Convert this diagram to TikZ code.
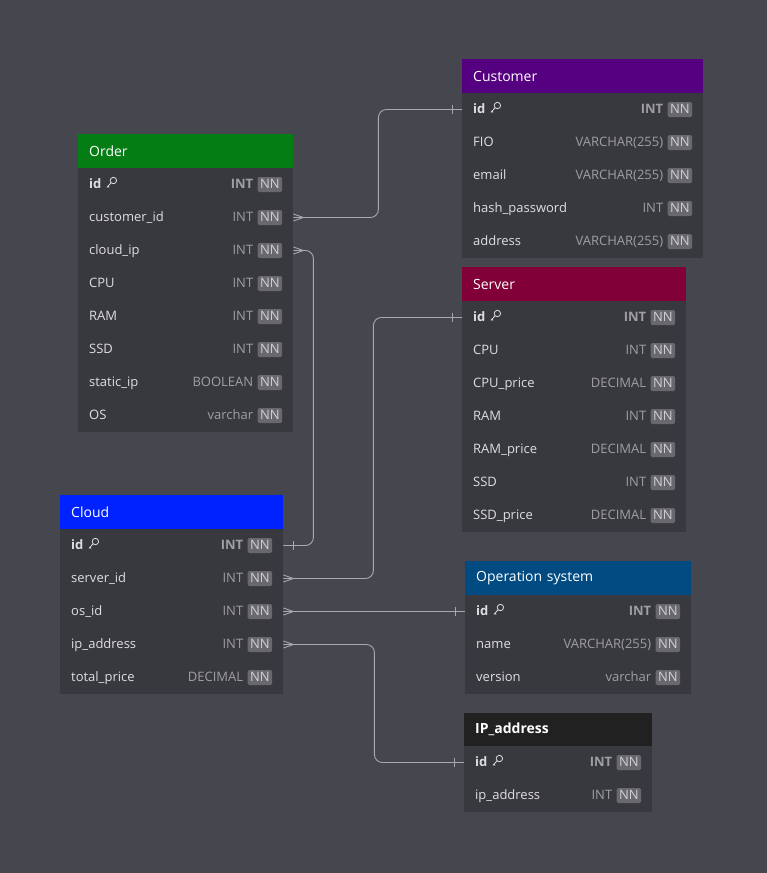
\documentclass[tikz,border=0pt]{standalone}
\usepackage{fontspec}
\setmainfont{Open Sans}
\usepackage{tikz}
\usetikzlibrary{positioning, calc}
\definecolor{bgcolor}{RGB}{70, 70, 78}
\definecolor{bodycolor}{RGB}{56, 56, 63}
\definecolor{fieldcolor}{RGB}{222, 222, 226}
\definecolor{typecolor}{RGB}{158, 158, 164}
\definecolor{badgecolor}{RGB}{104, 104, 110}
\definecolor{badgetext}{RGB}{208, 208, 212}
\definecolor{linkcolor}{RGB}{168, 168, 176}
\definecolor{ordercolor}{RGB}{4, 125, 20}
\definecolor{customercolor}{RGB}{85, 0, 128}
\definecolor{servercolor}{RGB}{128, 0, 55}
\definecolor{cloudcolor}{RGB}{0, 34, 255}
\definecolor{opsyscolor}{RGB}{2, 75, 130}
\definecolor{ipcolor}{RGB}{33, 33, 33}

\tikzset{
  header/.style={anchor=north west, inner xsep=11pt, inner ysep=0pt, minimum height=34pt,
    align=left, text=white, font=\fontsize{14}{16}\selectfont},
  tablebody/.style={fill=bodycolor},
  rowbox/.style={anchor=west, minimum height=33pt, inner sep=0pt},
  field/.style={anchor=west, inner sep=0pt, text height=10pt, text depth=2pt,
    text=fieldcolor, font=\fontsize{13}{15}\selectfont},
  pkfield/.style={field, font=\fontsize{13}{15}\selectfont\bfseries},
  dtype/.style={anchor=east, inner sep=0pt, text height=10pt, text depth=2pt,
    text=typecolor, font=\fontsize{13}{15}\selectfont},
  pktype/.style={dtype, font=\fontsize{13}{15}\selectfont\bfseries},
  nnbadge/.style={anchor=east, fill=badgecolor, text=badgetext, inner xsep=2.5pt, inner ysep=1.5pt,
    text height=10pt, text depth=2pt, rounded corners=1.5pt, font=\fontsize{13}{15}\selectfont},
  link/.style={draw=linkcolor, line width=0.9pt, rounded corners=8pt},
  crow/.pic={\draw[linkcolor, line width=0.9pt] (0,-3.5) -- (10,0) -- (0,3.5);},
  bar/.pic={\draw[linkcolor, line width=0.9pt] (0,-4.5) -- (0,4.5);},
  pkey/.pic={
    \draw[fieldcolor, line width=0.8pt] (6.8,-4) circle (3.2);
    \draw[fieldcolor, line width=0.8pt] (4.5,-1.7) -- (0.4,2.8) (1.4,1.7) -- (2.6,2.9);
  },
}

\begin{document}
\begin{tikzpicture}[x=1pt, y=-1pt]
  \fill[bgcolor] (0,0) rectangle (767,873);
  \useasboundingbox (0,0) rectangle (767,873);

  % Order
  \node[header, fill=ordercolor, text width=193pt] (order) at (78,134) {Order};
  \fill[tablebody] (78,168) rectangle (293,432);
  \node[rowbox, minimum width=215pt] (order-id) at (78,184.5) {};
  \node[pkfield] (order-id-f) at ([xshift=11pt]order-id.west) {id};
  \pic at ([xshift=5pt]order-id-f.east) {pkey};
  \node[nnbadge] (order-id-nn) at ([xshift=-11pt]order-id.east) {NN};
  \node[pktype] (order-id-t) at ([xshift=-4pt]order-id-nn.west) {INT};
  \foreach \nm/\fld/\typ [count=\i from 1] in {custid/customer\_id/INT, cloudip/cloud\_ip/INT,
      cpu/CPU/INT, ram/RAM/INT, ssd/SSD/INT, staticip/static\_ip/BOOLEAN, os/OS/varchar} {
    \node[rowbox, minimum width=215pt] (order-\nm) at (78,{184.5+33*\i}) {};
    \node[field] (order-\nm-f) at ([xshift=11pt]order-\nm.west) {\fld};
    \node[nnbadge] (order-\nm-nn) at ([xshift=-11pt]order-\nm.east) {NN};
    \node[dtype] (order-\nm-t) at ([xshift=-4pt]order-\nm-nn.west) {\typ};
  }

  % Customer
  \node[header, fill=customercolor, text width=219pt] (customer) at (462,59) {Customer};
  \fill[tablebody] (462,93) rectangle (703,258);
  \node[rowbox, minimum width=241pt] (customer-id) at (462,109.5) {};
  \node[pkfield] (customer-id-f) at ([xshift=11pt]customer-id.west) {id};
  \pic at ([xshift=5pt]customer-id-f.east) {pkey};
  \node[nnbadge] (customer-id-nn) at ([xshift=-11pt]customer-id.east) {NN};
  \node[pktype] (customer-id-t) at ([xshift=-4pt]customer-id-nn.west) {INT};
  \foreach \nm/\fld/\typ [count=\i from 1] in {fio/FIO/VARCHAR(255), email/email/VARCHAR(255),
      hash/hash\_password/INT, address/address/VARCHAR(255)} {
    \node[rowbox, minimum width=241pt] (customer-\nm) at (462,{109.5+33*\i}) {};
    \node[field] (customer-\nm-f) at ([xshift=11pt]customer-\nm.west) {\fld};
    \node[nnbadge] (customer-\nm-nn) at ([xshift=-11pt]customer-\nm.east) {NN};
    \node[dtype] (customer-\nm-t) at ([xshift=-4pt]customer-\nm-nn.west) {\typ};
  }

  % Server
  \node[header, fill=servercolor, text width=202pt] (server) at (462,267) {Server};
  \fill[tablebody] (462,301) rectangle (686,532);
  \node[rowbox, minimum width=224pt] (server-id) at (462,317.5) {};
  \node[pkfield] (server-id-f) at ([xshift=11pt]server-id.west) {id};
  \pic at ([xshift=5pt]server-id-f.east) {pkey};
  \node[nnbadge] (server-id-nn) at ([xshift=-11pt]server-id.east) {NN};
  \node[pktype] (server-id-t) at ([xshift=-4pt]server-id-nn.west) {INT};
  \foreach \nm/\fld/\typ [count=\i from 1] in {cpu/CPU/INT, cpuprice/CPU\_price/DECIMAL,
      ram/RAM/INT, ramprice/RAM\_price/DECIMAL, ssd/SSD/INT, ssdprice/SSD\_price/DECIMAL} {
    \node[rowbox, minimum width=224pt] (server-\nm) at (462,{317.5+33*\i}) {};
    \node[field] (server-\nm-f) at ([xshift=11pt]server-\nm.west) {\fld};
    \node[nnbadge] (server-\nm-nn) at ([xshift=-11pt]server-\nm.east) {NN};
    \node[dtype] (server-\nm-t) at ([xshift=-4pt]server-\nm-nn.west) {\typ};
  }

  % Cloud
  \node[header, fill=cloudcolor, text width=201pt] (cloud) at (60,495) {Cloud};
  \fill[tablebody] (60,529) rectangle (283,694);
  \node[rowbox, minimum width=223pt] (cloud-id) at (60,545.5) {};
  \node[pkfield] (cloud-id-f) at ([xshift=11pt]cloud-id.west) {id};
  \pic at ([xshift=5pt]cloud-id-f.east) {pkey};
  \node[nnbadge] (cloud-id-nn) at ([xshift=-11pt]cloud-id.east) {NN};
  \node[pktype] (cloud-id-t) at ([xshift=-4pt]cloud-id-nn.west) {INT};
  \foreach \nm/\fld/\typ [count=\i from 1] in {serverid/server\_id/INT, osid/os\_id/INT,
      ipaddr/ip\_address/INT, total/total\_price/DECIMAL} {
    \node[rowbox, minimum width=223pt] (cloud-\nm) at (60,{545.5+33*\i}) {};
    \node[field] (cloud-\nm-f) at ([xshift=11pt]cloud-\nm.west) {\fld};
    \node[nnbadge] (cloud-\nm-nn) at ([xshift=-11pt]cloud-\nm.east) {NN};
    \node[dtype] (cloud-\nm-t) at ([xshift=-4pt]cloud-\nm-nn.west) {\typ};
  }

  % Operation system
  \node[header, fill=opsyscolor, text width=204pt] (opsys) at (465,561) {Operation system};
  \fill[tablebody] (465,595) rectangle (691,694);
  \node[rowbox, minimum width=226pt] (opsys-id) at (465,611.5) {};
  \node[pkfield] (opsys-id-f) at ([xshift=11pt]opsys-id.west) {id};
  \pic at ([xshift=5pt]opsys-id-f.east) {pkey};
  \node[nnbadge] (opsys-id-nn) at ([xshift=-11pt]opsys-id.east) {NN};
  \node[pktype] (opsys-id-t) at ([xshift=-4pt]opsys-id-nn.west) {INT};
  \foreach \nm/\fld/\typ [count=\i from 1] in {name/name/VARCHAR(255), version/version/varchar} {
    \node[rowbox, minimum width=226pt] (opsys-\nm) at (465,{611.5+33*\i}) {};
    \node[field] (opsys-\nm-f) at ([xshift=11pt]opsys-\nm.west) {\fld};
    \node[nnbadge] (opsys-\nm-nn) at ([xshift=-11pt]opsys-\nm.east) {NN};
    \node[dtype] (opsys-\nm-t) at ([xshift=-4pt]opsys-\nm-nn.west) {\typ};
  }

  % IP_address
  \node[header, fill=ipcolor, text width=166pt, minimum height=33pt,
    font=\fontsize{14}{16}\selectfont\bfseries] (ipaddr) at (464,713) {IP\_address};
  \fill[tablebody] (464,746) rectangle (652,812);
  \node[rowbox, minimum width=188pt] (ipaddr-id) at (464,762.5) {};
  \node[pkfield] (ipaddr-id-f) at ([xshift=11pt]ipaddr-id.west) {id};
  \pic at ([xshift=5pt]ipaddr-id-f.east) {pkey};
  \node[nnbadge] (ipaddr-id-nn) at ([xshift=-11pt]ipaddr-id.east) {NN};
  \node[pktype] (ipaddr-id-t) at ([xshift=-4pt]ipaddr-id-nn.west) {INT};
  \node[rowbox, minimum width=188pt] (ipaddr-ip) at (464,795.5) {};
  \node[field] (ipaddr-ip-f) at ([xshift=11pt]ipaddr-ip.west) {ip\_address};
  \node[nnbadge] (ipaddr-ip-nn) at ([xshift=-11pt]ipaddr-ip.east) {NN};
  \node[dtype] (ipaddr-ip-t) at ([xshift=-4pt]ipaddr-ip-nn.west) {INT};

  % relations
  \draw[link] (order-custid.east) -- ++(85,0) |- (customer-id.west);
  \pic at (order-custid.east) {crow};
  \pic at ([xshift=-10pt]customer-id.west) {bar};

  \draw[link] (order-cloudip.east) -- ++(20,0) |- (cloud-id.east);
  \pic at (order-cloudip.east) {crow};
  \pic at ([xshift=10pt]cloud-id.east) {bar};

  \draw[link] (cloud-serverid.east) -- ++(90,0) |- (server-id.west);
  \pic at (cloud-serverid.east) {crow};
  \pic at ([xshift=-10pt]server-id.west) {bar};

  \draw[link] (cloud-osid.east) -- (opsys-id.west);
  \pic at (cloud-osid.east) {crow};
  \pic at ([xshift=-10pt]opsys-id.west) {bar};

  \draw[link] (cloud-ipaddr.east) -- ++(91,0) |- (ipaddr-id.west);
  \pic at (cloud-ipaddr.east) {crow};
  \pic at ([xshift=-10pt]ipaddr-id.west) {bar};
\end{tikzpicture}
\end{document}
